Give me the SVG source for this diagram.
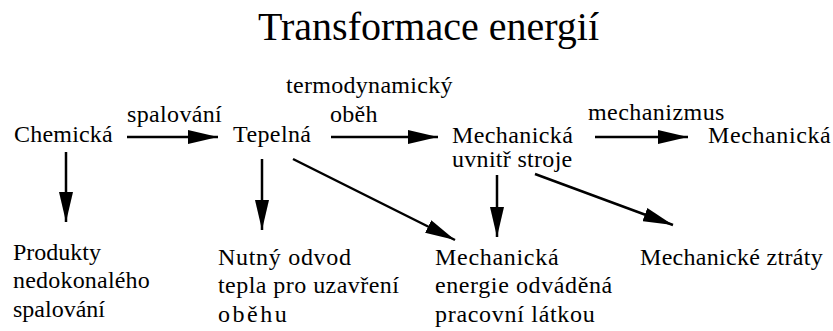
<svg xmlns="http://www.w3.org/2000/svg" width="833" height="331" viewBox="0 0 833 331" font-family="Liberation Serif, serif">
<style>
text{font-family:'Liberation Serif',serif;font-size:24px;fill:#000;letter-spacing:0.4px}
.title{font-size:40px;letter-spacing:0}
.c{stroke:#000;stroke-width:2.5;fill:none;marker-end:url(#ah)}
</style>
<defs>
<marker id="ah" viewBox="0 0 30 14" refX="30" refY="7" markerWidth="30" markerHeight="14" markerUnits="userSpaceOnUse" orient="auto">
<path d="M0,0 L30,7 L0,14 z" fill="#000"/>
</marker>
</defs>
<rect width="833" height="331" fill="#fff"/>
<text class="title" x="258" y="40">Transformace energií</text>
<g id="n-chemicka"><text x="14" y="142" style="letter-spacing:0.2px">Chemická</text></g>
<g id="n-tepelna"><text x="233" y="142">Tepelná</text></g>
<g id="n-mech-uvnitr"><text x="452" y="143">Mechanická</text><text x="452" y="167" style="letter-spacing:0.3px">uvnitř stroje</text></g>
<g id="n-mech"><text x="708" y="143" style="letter-spacing:0.6px">Mechanická</text></g>
<g id="n-produkty"><text x="13" y="260" style="letter-spacing:0">Produkty</text><text x="13" y="288" style="letter-spacing:0.2px">nedokonalého</text><text x="13" y="317" style="letter-spacing:0">spalování</text></g>
<g id="n-odvod"><text x="218" y="265" style="letter-spacing:0.7px">Nutný odvod</text><text x="218" y="293" style="letter-spacing:0.45px">tepla pro uzavření</text><text x="218" y="322" style="letter-spacing:2.5px">oběhu</text></g>
<g id="n-mech-latka"><text x="435" y="265" style="letter-spacing:0.7px">Mechanická</text><text x="435" y="293" style="letter-spacing:0.6px">energie odváděná</text><text x="435" y="322" style="letter-spacing:0.7px">pracovní látkou</text></g>
<g id="n-ztraty"><text x="640" y="265" style="letter-spacing:0.3px">Mechanické ztráty</text></g>
<g id="connectors">
<line class="c" x1="127" y1="137" x2="218" y2="137"/>
<line class="c" x1="331" y1="137" x2="438" y2="137"/>
<line class="c" x1="595" y1="137" x2="688" y2="137"/>
<line class="c" x1="66" y1="152" x2="66" y2="222"/>
<line class="c" x1="262" y1="159" x2="262" y2="230"/>
<line class="c" x1="293" y1="159" x2="455" y2="240"/>
<line class="c" x1="497" y1="175" x2="497" y2="237"/>
<line class="c" x1="535" y1="174" x2="673" y2="225"/>
<text x="127" y="122" style="letter-spacing:0.35px">spalování</text>
<text x="286" y="93" style="letter-spacing:0.3px">termodynamický</text>
<text x="330" y="122" style="letter-spacing:0.3px">oběh</text>
<text x="588" y="120" style="letter-spacing:0.45px">mechanizmus</text>
</g>
</svg>
